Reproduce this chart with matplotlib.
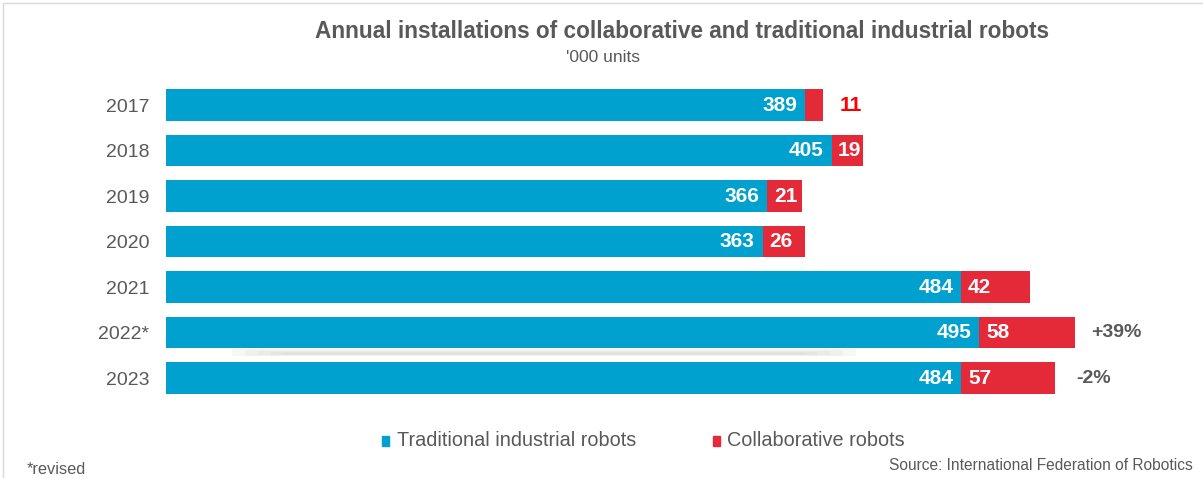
import matplotlib.pyplot as plt
from matplotlib.patches import Rectangle

plt.rcParams['font.family'] = ['Liberation Sans', 'DejaVu Sans']

years = ['2017', '2018', '2019', '2020', '2021', '2022*', '2023']
traditional = [389, 405, 366, 363, 484, 495, 484]
collaborative = [11, 19, 21, 26, 42, 58, 57]
growth_labels = {5: '+39%', 6: '-2%'}

BLUE = '#00A0CF'
RED = '#E42A38'
GRAY = '#595959'

fig = plt.figure(figsize=(12.03, 4.78), dpi=100)
ax = fig.add_axes([166 / 1203, 0.1616, 986 / 1203, 0.6663])

ypos = list(range(len(years)))

# soft shadow under the 2022 bar (decorative, as in the original)
for k in range(6):
    ax.fill_between([40 + k * 8, 420 - k * 8], 5.37 + k * 0.02, 5.52 - k * 0.01,
                    color='#BFBFBF', alpha=0.12, linewidth=0, zorder=0)

ax.barh(ypos, traditional, height=0.7, color=BLUE, edgecolor='none', zorder=2)
ax.barh(ypos, collaborative, left=traditional, height=0.7, color=RED,
        edgecolor='none', zorder=2)

for i, (t, c) in enumerate(zip(traditional, collaborative)):
    ax.text(t - 5, i, str(t), ha='right', va='center', color='white',
            fontsize=15, fontweight='bold', zorder=3)
    if c < 15:
        ax.text(t + c + 10, i, str(c), ha='left', va='center', color='#FF0000',
                fontsize=15, fontweight='bold')
    else:
        ax.text(t + 4, i, str(c), ha='left', va='center', color='white',
                fontsize=15, fontweight='bold', zorder=3)
    if i in growth_labels:
        ax.text(t + c + 10 + (3 if i == 6 else 0), i, growth_labels[i], ha='left',
                va='center', color=GRAY, fontsize=14, fontweight='bold')

ax.set_xlim(0, 600)
ax.set_ylim(len(years) - 0.5, -0.5)
ax.set_yticks(ypos)
ax.set_yticklabels(years, fontsize=14, color=GRAY)
ax.tick_params(axis='y', length=0, pad=12)
ax.set_xticks([])
for s in ax.spines.values():
    s.set_visible(False)

fig.text(682 / 1203, 1 - 31 / 478, 'Annual installations of collaborative and traditional industrial robots',
         ha='center', va='center', fontsize=16.3, fontweight='bold', color=GRAY)
fig.text(603 / 1203, 1 - 58 / 478, "'000 units", ha='center', va='center',
         fontsize=12.5, color=GRAY)

# legend
fig.patches.append(Rectangle((382 / 1203, 1 - 446 / 478), 7 / 1203, 10 / 478,
                             transform=fig.transFigure, color=BLUE))
fig.text(397 / 1203, 1 - 440 / 478, 'Traditional industrial robots', ha='left', va='center',
         fontsize=14.3, color=GRAY)
fig.patches.append(Rectangle((713 / 1203, 1 - 446 / 478), 7 / 1203, 10 / 478,
                             transform=fig.transFigure, color=RED))
fig.text(727 / 1203, 1 - 440 / 478, 'Collaborative robots', ha='left', va='center',
         fontsize=14.3, color=GRAY)

fig.text(27 / 1203, 1 - 470 / 478, '*revised', ha='left', va='center', fontsize=11.8, color=GRAY)
fig.text(1193 / 1203, 1 - 466 / 478, 'Source: International Federation of Robotics',
         ha='right', va='center', fontsize=11.2, color=GRAY)

# thin frame
fig.patches.append(Rectangle((3 / 1203, -0.01), 1.02, 1 - 3 / 478 + 0.01,
                             transform=fig.transFigure, fill=False,
                             edgecolor='#D9D9D9', linewidth=1))

fig.savefig('out.png', dpi=100)
